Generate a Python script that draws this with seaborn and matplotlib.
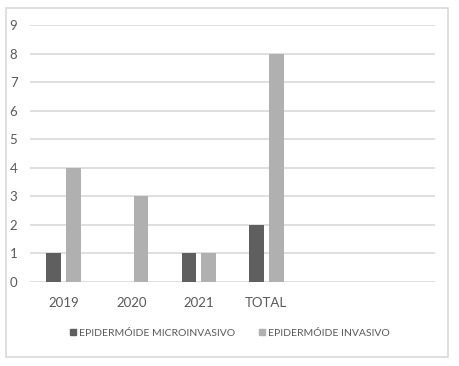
import matplotlib
matplotlib.use("Agg")
import matplotlib.pyplot as plt
import matplotlib.patches as mpatches
import pandas as pd
import seaborn as sns

# ── data ──────────────────────────────────────────────────────────────────────
categorias = ["2019", "2020", "2021", "TOTAL"]
series = ["EPIDERMÓIDE MICROINVASIVO", "EPIDERMÓIDE INVASIVO"]
microinvasivo = [1, 0, 1, 2]
invasivo = [4, 3, 1, 8]
y_ticks = list(range(0, 10))

COLORS = ["#5f5f5f", "#b0b0b0"]
GRID = "#d9d9d9"
TXT = "#595959"

df = pd.DataFrame({
    "ano": categorias * 2,
    "serie": [series[0]] * len(categorias) + [series[1]] * len(categorias),
    "n": microinvasivo + invasivo,
})

sns.set_style("white")
plt.rcParams["font.family"] = ["Lato", "DejaVu Sans"]

fig = plt.figure(figsize=(4.6, 3.66), dpi=100)
ax = fig.add_axes([0.065, 0.2295, 0.881, 0.7022])

sns.barplot(data=df, x="ano", y="n", hue="serie", order=categorias,
            hue_order=series, palette=COLORS, width=0.58, gap=0.24,
            saturation=1, errorbar=None, legend=False, linewidth=0, ax=ax)

ax.set_xlim(-0.5, 5.5)
ax.set_ylim(0, 9)
ax.set_yticks(y_ticks)
ax.yaxis.grid(True, color=GRID, linewidth=1.2)
ax.set_axisbelow(True)
for s in ax.spines.values():
    s.set_visible(False)
ax.tick_params(axis="both", length=0, colors=TXT, labelsize=9.5)
ax.tick_params(axis="x", pad=11)
ax.tick_params(axis="y", pad=9)
ax.set_xlabel("")
ax.set_ylabel("")

handles = [mpatches.Patch(color=COLORS[i], label=series[i]) for i in range(2)]
fig.legend(handles=handles, loc="center", bbox_to_anchor=(0.5, 0.09),
           ncol=2, frameon=False, fontsize=7.5, handlelength=0.6,
           handleheight=0.6, handletextpad=0.25, columnspacing=2.3,
           labelcolor=TXT)

# outer chart border
fig.patches.append(mpatches.Rectangle((6 / 460, 1 - 357 / 366), 442 / 460, 349 / 366,
                                      transform=fig.transFigure, fill=False,
                                      edgecolor=GRID, linewidth=1.2))

fig.savefig("out.png", dpi=100)
